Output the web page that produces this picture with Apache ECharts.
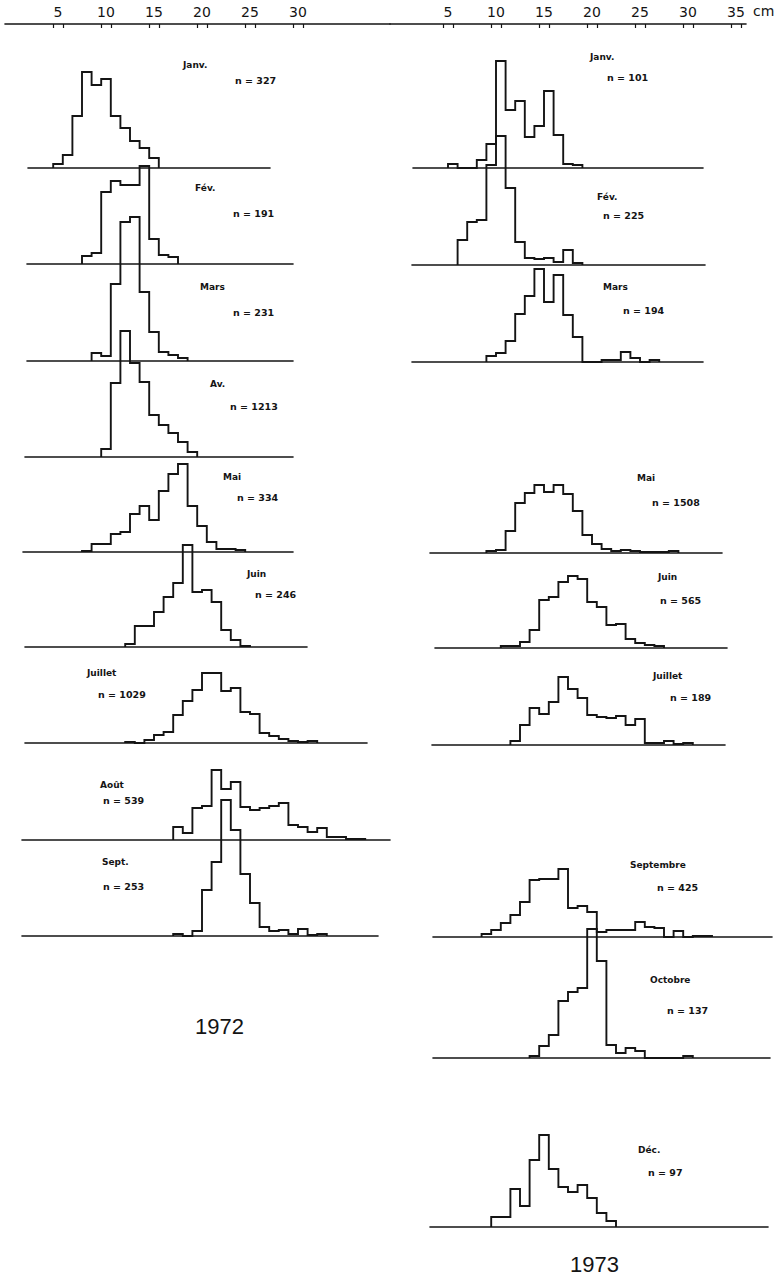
<!DOCTYPE html>
<html><head><meta charset="utf-8">
<script src="https://cdn.jsdelivr.net/npm/echarts@6/dist/echarts.min.js"></script>
<style>html,body{margin:0;background:#fff}#c{width:780px;height:1281px}</style>
</head><body><div id="c"></div>
<script>
// ---------- DATA ----------
// top scale tick labels (cm)
const tickLabels1972 = [5, 10, 15, 20, 25, 30];
const tickLabels1973 = [5, 10, 15, 20, 25, 30, 35];

// months and sample sizes
const months1972 = ['Janv.', 'Fév.', 'Mars', 'Av.', 'Mai', 'Juin', 'Juillet', 'Août', 'Sept.'];
const n1972 = [327, 191, 231, 1213, 334, 246, 1029, 539, 253];
const months1973 = ['Janv.', 'Fév.', 'Mars', 'Mai', 'Juin', 'Juillet', 'Septembre', 'Octobre', 'Déc.'];
const n1973 = [101, 225, 194, 1508, 565, 189, 425, 137, 97];

// lower bound (cm) of the first 1-cm length class of each histogram
const start1972 = [4.5, 7.5, 8.5, 9.5, 7.5, 12, 12, 17, 17];
const start1973 = [5, 6, 9, 9, 10.5, 11.5, 8.5, 13.5, 9.5];

// frequencies per 1-cm class (relative units), 1972
const f1972Janv = [4, 13, 52, 96, 83, 89, 52, 40, 27, 20, 10];
const f1972Fev = [8, 11, 72, 83, 79, 79, 98, 25, 9, 7];
const f1972Mars = [8, 5, 77, 139, 144, 69, 29, 9, 6, 3];
const f1972Av = [8, 74, 126, 94, 75, 42, 32, 24, 15, 5];
const f1972Mai = [1, 8, 8, 18, 20, 38, 46, 32, 61, 78, 88, 46, 26, 10, 3, 3, 2];
const f1972Juin = [3, 21, 21, 35, 50, 64, 102, 55, 57, 45, 17, 7, 1];
const f1972Juillet = [1, 0, 3, 8, 11, 28, 42, 53, 70, 70, 52, 55, 31, 29, 10, 7, 4, 2, 1, 2];
const f1972Aout = [13, 7, 32, 34, 70, 51, 58, 33, 30, 32, 34, 37, 15, 13, 8, 12, 3, 3, 1, 1];
const f1972Sept = [2, 0, 5, 46, 74, 136, 106, 62, 33, 9, 5, 6, 2, 7, 1, 2];

// frequencies per 1-cm class (relative units), 1973
const f1973Janv = [4, 0, 0, 8, 24, 107, 58, 67, 31, 42, 77, 33, 4, 3];
const f1973Fev = [25, 43, 45, 100, 129, 77, 23, 7, 6, 7, 3, 15, 2];
const f1973Mars = [6, 9, 21, 48, 66, 93, 60, 87, 47, 25, 0, 0, 2, 2, 10, 4, 0, 2];
const f1973Mai = [2, 3, 22, 50, 60, 68, 61, 68, 59, 42, 18, 9, 4, 2, 3, 2, 1, 1, 1, 2];
const f1973Juin = [2, 2, 6, 18, 48, 51, 66, 72, 69, 46, 41, 23, 24, 9, 5, 3, 2];
const f1973Juillet = [4, 20, 37, 31, 43, 68, 56, 47, 30, 28, 27, 29, 20, 26, 2, 2, 4, 1, 2];
const f1973Sept = [3, 7, 14, 22, 35, 57, 58, 58, 68, 29, 31, 25, 5, 7, 7, 7, 15, 10, 9, 0, 6, 0, 1, 1];
const f1973Oct = [2, 12, 23, 57, 66, 70, 129, 97, 13, 5, 10, 7, 0, 0, 0, 0, 2];
const f1973Dec = [10, 10, 38, 21, 67, 92, 58, 40, 35, 42, 29, 14, 6];

const freq1972 = [f1972Janv, f1972Fev, f1972Mars, f1972Av, f1972Mai, f1972Juin, f1972Juillet, f1972Aout, f1972Sept];
const freq1973 = [f1973Janv, f1973Fev, f1973Mars, f1973Mai, f1973Juin, f1973Juillet, f1973Sept, f1973Oct, f1973Dec];

// ---------- LAYOUT ----------
const PX = 9.6;           // pixels per cm
const H = 150;            // panel height (value units == px)
const cols = [
  { x0: 10, axisL: 5, axisR: 390, ticks: tickLabels1972, year: '1972', yearX: 220, yearY: 1027,
    months: months1972, ns: n1972, starts: start1972, freqs: freq1972,
    base: [168, 264, 361, 457, 552, 647, 743, 840, 936],
    ext: [[28, 270], [27, 293], [27, 293], [25, 293], [23, 293], [25, 307], [25, 367], [22, 390], [22, 378]],
    mPos: [[183, 65], [195, 188], [200, 287], [210, 384], [223, 477], [247, 574], [87, 673], [100, 785], [102, 862]],
    nPos: [[235, 80], [233, 213], [233, 312], [230, 406], [237, 497], [255, 594], [98, 694], [103, 800], [103, 886]] },
  { x0: 400, axisL: 390, axisR: 746, ticks: tickLabels1973, year: '1973', yearX: 595, yearY: 1265, unit: 'cm',
    months: months1973, ns: n1973, starts: start1973, freqs: freq1973,
    base: [168, 265, 362, 553, 648, 745, 937, 1058, 1227],
    ext: [[413, 703], [412, 705], [412, 703], [430, 722], [435, 727], [432, 725], [433, 772], [433, 770], [430, 768]],
    mPos: [[590, 57], [597, 197], [603, 287], [637, 478], [658, 577], [653, 676], [630, 865], [650, 980], [638, 1150]],
    nPos: [[607, 77], [603, 215], [623, 310], [652, 502], [660, 600], [670, 697], [657, 887], [667, 1010], [648, 1172]] }
];

const INK = '#141414';
const grid = [], xAxis = [], yAxis = [], series = [], graphic = [];

function histPoints(start, f) {
  const pts = [[start, 0]];
  f.forEach((v, i) => { pts.push([start + i, v]); pts.push([start + i + 1, v]); });
  pts.push([start + f.length, 0]);
  return pts;
}

cols.forEach(c => {
  // top scale
  const gi = grid.length;
  grid.push({ left: c.axisL, width: c.axisR - c.axisL, top: 24, height: 1 });
  const tickVals = [];
  c.ticks.forEach(t => { tickVals.push(t - 0.5, t + 0.5); });
  xAxis.push({
    type: 'value', gridIndex: gi, position: 'top',
    min: (c.axisL - c.x0) / PX, max: (c.axisR - c.x0) / PX,
    axisLine: { onZero: false, lineStyle: { color: INK, width: 1.6 } },
    axisTick: { show: true, inside: true, length: 4, customValues: tickVals, lineStyle: { color: INK, width: 1.2 } },
    axisLabel: { show: true, customValues: c.ticks, fontSize: 14, color: INK, margin: 5, fontFamily: 'DejaVu Sans' },
    splitLine: { show: false },
    name: c.unit || '', nameLocation: 'end', nameGap: 7,
    nameTextStyle: { fontSize: 14, color: INK, fontFamily: 'DejaVu Sans', verticalAlign: 'bottom', padding: [0, 0, 6, 0] }
  });
  yAxis.push({ type: 'value', gridIndex: gi, show: false, min: 0, max: 1 });
  series.push({ type: 'line', xAxisIndex: gi, yAxisIndex: gi, data: [], silent: true });

  // panels
  c.freqs.forEach((f, i) => {
    const k = grid.length;
    const lo = (c.ext[i][0] - c.x0) / PX, hi = (c.ext[i][1] - c.x0) / PX;
    grid.push({ left: c.x0 + lo * PX, width: (hi - lo) * PX, top: c.base[i] - H, height: H });
    xAxis.push({
      type: 'value', gridIndex: k, min: lo, max: hi,
      axisLine: { onZero: false, lineStyle: { color: INK, width: 1.6 } },
      axisTick: { show: false }, axisLabel: { show: false }, splitLine: { show: false }
    });
    yAxis.push({ type: 'value', gridIndex: k, min: 0, max: H, show: false });
    series.push({
      type: 'line', xAxisIndex: k, yAxisIndex: k, data: histPoints(c.starts[i], f),
      showSymbol: false, silent: true, clip: false,
      lineStyle: { color: INK, width: 1.9, join: 'miter' }
    });
    graphic.push({ type: 'text', left: c.mPos[i][0], top: c.mPos[i][1] - 5,
      style: { text: c.months[i], fontSize: 9, fontWeight: 'bold', fill: INK, fontFamily: 'DejaVu Sans' } });
    graphic.push({ type: 'text', left: c.nPos[i][0], top: c.nPos[i][1] - 5,
      style: { text: 'n = ' + c.ns[i], fontSize: 9.5, fontWeight: 'bold', fill: INK, fontFamily: 'DejaVu Sans' } });
  });

  graphic.push({ type: 'text', left: c.yearX - 25, top: c.yearY - 12,
    style: { text: c.year, fontSize: 22, fill: INK, fontFamily: 'Liberation Sans' } });
});

const chart = echarts.init(document.getElementById('c'), null, { renderer: 'svg' });
chart.setOption({ animation: false, backgroundColor: '#fff', grid, xAxis, yAxis, series, graphic });
</script></body></html>
